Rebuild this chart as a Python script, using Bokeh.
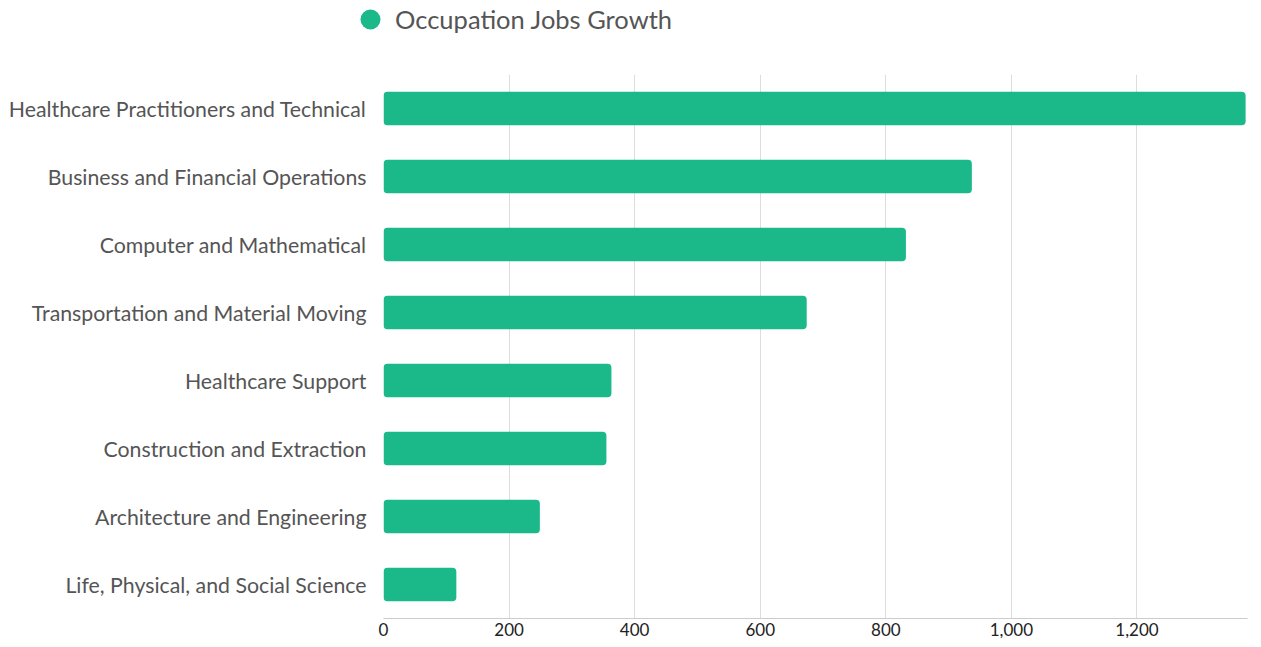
from bokeh.plotting import figure
from bokeh.layouts import column
from bokeh.models import ColumnDataSource, FactorRange, Range1d, FixedTicker, NumeralTickFormatter, Legend, LegendItem
from bokeh.embed import file_html
from bokeh.resources import INLINE

categories = [
    "Healthcare Practitioners and Technical",
    "Business and Financial Operations",
    "Computer and Mathematical",
    "Transportation and Material Moving",
    "Healthcare Support",
    "Construction and Extraction",
    "Architecture and Engineering",
    "Life, Physical, and Social Science",
]
values = [1373, 937, 832, 674, 363, 355, 249, 116]
x_ticks = [0, 200, 400, 600, 800, 1000, 1200]
series_name = "Occupation Jobs Growth"
color = "#1BB98A"

source = ColumnDataSource(data=dict(cat=categories, val=values))

# ---- legend strip on top ----
top = figure(width=1245, height=74, x_range=Range1d(0, 1245), y_range=Range1d(0, 74),
             output_backend="svg", toolbar_location=None,
             x_axis_location=None, y_axis_location=None,
             min_border=0)
top.frame_align = False
top.outline_line_color = None
top.xgrid.visible = False
top.ygrid.visible = False
lr = top.scatter(x=[-5000], y=[-5000], size=20, marker="circle",
                 fill_color=color, line_color=None)
legend = Legend(items=[LegendItem(label=series_name, renderers=[lr])],
                location=(345, 30), orientation="horizontal",
                border_line_color=None, background_fill_alpha=0,
                padding=0, margin=0, glyph_width=50, glyph_height=50,
                label_standoff=0, label_height=24,
                label_text_font="Lato", label_text_font_size="25.5px",
                label_text_color="#555555")
top.add_layout(legend, "center")

# ---- main bar chart ----
p = figure(
    frame_width=864, frame_height=544,
    y_range=FactorRange(*reversed(categories), range_padding=0),
    x_range=Range1d(0, 1376),
    output_backend="svg", toolbar_location=None,
    min_border_top=0, min_border_right=5, min_border_bottom=0, min_border_left=383,
)
p.frame_align = False
p.outline_line_color = None
p.background_fill_color = "white"

p.hbar(y="cat", right="val", left=0, height=0.49, source=source,
       fill_color=color, line_color=None, border_radius=4)

p.xaxis.ticker = FixedTicker(ticks=x_ticks)
p.xaxis.formatter = NumeralTickFormatter(format="0,0")
p.xaxis.axis_line_color = "#cccccc"
p.xaxis.major_tick_line_color = None
p.xaxis.minor_tick_line_color = None
p.xaxis.major_tick_out = 0
p.xaxis.major_tick_in = 0
p.xaxis.major_label_text_font = "Lato"
p.xaxis.major_label_text_font_size = "17px"
p.xaxis.major_label_text_color = "#222222"
p.xaxis.major_label_standoff = 4

p.yaxis.axis_line_color = None
p.yaxis.major_tick_line_color = None
p.yaxis.minor_tick_line_color = None
p.yaxis.major_tick_out = 0
p.yaxis.major_tick_in = 0
p.yaxis.major_label_text_font = "Lato"
p.yaxis.major_label_text_font_size = "21.3px"
p.yaxis.major_label_text_color = "#555555"
p.yaxis.major_label_standoff = 17

p.xgrid.grid_line_color = "#dddddd"
p.xgrid.ticker = FixedTicker(ticks=x_ticks)
p.ygrid.grid_line_color = None

layout = column(top, p, spacing=0)

open("out.html", "w").write(file_html(layout, INLINE))
